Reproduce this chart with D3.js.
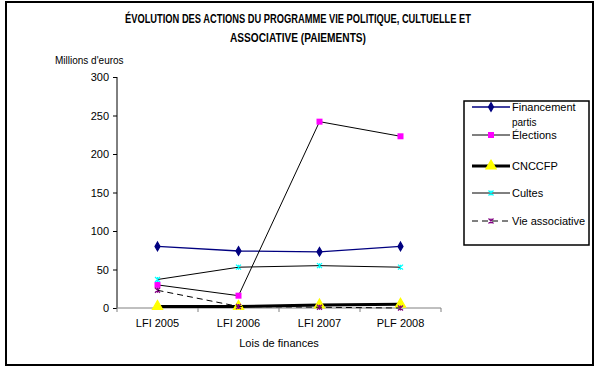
<!DOCTYPE html>
<html>
<head>
<meta charset="utf-8">
<script src="https://cdn.jsdelivr.net/npm/d3@7"></script>
<style>
  body { margin: 0; background: #fff; }
  svg text { font-family: Arial, "Liberation Sans", sans-serif; fill: #000; }
  .title { font-family: "Liberation Sans Narrow", "Arial Narrow", Arial, sans-serif; font-weight: bold; font-size: 12px; }
</style>
</head>
<body>
<div id="chart"></div>
<script>
var categories = ["LFI 2005", "LFI 2006", "LFI 2007", "PLF 2008"];
var yTicks = [0, 50, 100, 150, 200, 250, 300];

var financementPartis = [80, 74, 73, 80];
var elections = [30, 16, 242, 223];
var cnccfp = [2, 2, 4, 5];
var cultes = [37, 53, 55, 53];
var vieAssociative = [23, 2, 1, 0];

var seriesNames = ["Financement partis", "Élections", "CNCCFP", "Cultes", "Vie associative"];

var W = 597, H = 370;
var svg = d3.select("#chart").append("svg").attr("width", W).attr("height", H);

// outer frame
svg.append("rect")
  .attr("x", 6).attr("y", 2).attr("width", 587).attr("height", 363)
  .attr("fill", "none").attr("stroke", "#000").attr("stroke-width", 2);

// no narrow font installed, so squeeze the title to the reference width
svg.append("text").attr("class", "title").attr("x", 298).attr("y", 23)
  .attr("text-anchor", "middle").attr("textLength", 346).attr("lengthAdjust", "spacingAndGlyphs")
  .text("ÉVOLUTION DES ACTIONS DU PROGRAMME VIE POLITIQUE, CULTUELLE ET");
svg.append("text").attr("class", "title").attr("x", 298).attr("y", 42)
  .attr("text-anchor", "middle").attr("textLength", 136).attr("lengthAdjust", "spacingAndGlyphs")
  .text("ASSOCIATIVE (PAIEMENTS)");

svg.append("text").attr("x", 55).attr("y", 64).style("font-size", "10px").text("Millions d'euros");

var x = d3.scaleBand().domain(categories).range([117, 441]);
var y = d3.scaleLinear().domain([0, 300]).range([308, 77]);

// y axis
var yAxis = svg.append("g").attr("transform", "translate(117,0)")
  .call(d3.axisLeft(y).tickValues(yTicks).tickSize(4).tickPadding(4));
yAxis.select(".domain").attr("stroke", "#000").attr("d", "M0," + y(300) + "V" + y(0));
yAxis.selectAll(".tick line").attr("stroke", "#000");
yAxis.selectAll("text").style("font-size", "11px").attr("font-family", null);

// x axis (labels centered in bands, ticks at band edges)
var xAxis = svg.append("g").attr("transform", "translate(0," + y(0) + ")")
  .call(d3.axisBottom(x).tickSize(0).tickPadding(11));
xAxis.select(".domain").attr("stroke", "#808080").attr("d", "M117,0H441");
xAxis.selectAll("text").style("font-size", "11px").attr("font-family", null);
var edges = categories.map(function(c) { return x(c); }).concat([x.range()[1]]);
xAxis.selectAll(".edge").data(edges).enter().append("line")
  .attr("x1", function(d) { return d; }).attr("x2", function(d) { return d; })
  .attr("y1", 0).attr("y2", 4).attr("stroke", "#808080");

svg.append("text").attr("x", 279).attr("y", 347).attr("text-anchor", "middle")
  .style("font-size", "11px").text("Lois de finances");

function cx(i) { return x(categories[i]) + x.bandwidth() / 2; }

function asterisk(s) {
  return "M" + (-s) + "," + (-s) + "L" + s + "," + s +
    "M" + (-s) + "," + s + "L" + s + "," + (-s) +
    "M0," + (-s) + "L0," + s;
}

var series = [
  { name: seriesNames[0], values: financementPartis, stroke: "#000080", width: 1.3, dash: null,
    marker: d3.symbol().type(d3.symbolDiamond).size(22)(), mfill: "#000080", mstroke: "#000080" },
  { name: seriesNames[1], values: elections, stroke: "#000", width: 1, dash: null,
    marker: d3.symbol().type(d3.symbolSquare).size(36)(), mfill: "#ff00ff", mstroke: "none" },
  { name: seriesNames[2], values: cnccfp, stroke: "#000", width: 3, dash: null,
    marker: d3.symbol().type(d3.symbolTriangle).size(45)(), mfill: "#ffff00", mstroke: "#ffff00" },
  { name: seriesNames[3], values: cultes, stroke: "#000", width: 1, dash: null,
    marker: asterisk(2.5), mfill: "none", mstroke: "#00ffff" },
  { name: seriesNames[4], values: vieAssociative, stroke: "#000", width: 1, dash: "6,4",
    marker: asterisk(2.5), mfill: "none", mstroke: "#800080" }
];

var line = d3.line().x(function(d, i) { return cx(i); }).y(function(d) { return y(d); });

var plot = svg.append("g");
series.forEach(function(s) {
  plot.append("path").datum(s.values).attr("d", line)
    .attr("fill", "none").attr("stroke", s.stroke).attr("stroke-width", s.width)
    .attr("stroke-dasharray", s.dash);
  plot.selectAll(null).data(s.values).enter().append("path")
    .attr("d", s.marker)
    .attr("transform", function(d, i) { return "translate(" + cx(i) + "," + y(d) + ")"; })
    .attr("fill", s.mfill).attr("stroke", s.mstroke).attr("stroke-width", 1.2);
});

// legend
var legend = svg.append("g");
legend.append("rect").attr("x", 464).attr("y", 101).attr("width", 125).attr("height", 144)
  .attr("fill", "#fff").attr("stroke", "#000").attr("stroke-width", 1.5);
var legendY = [107, 135, 166, 193, 221];
series.forEach(function(s, i) {
  var g = legend.append("g").attr("transform", "translate(0," + legendY[i] + ")");
  g.append("line").attr("x1", 472).attr("x2", 510).attr("y1", 0).attr("y2", 0)
    .attr("stroke", s.stroke).attr("stroke-width", s.width).attr("stroke-dasharray", s.dash);
  g.append("path").attr("d", s.marker).attr("transform", "translate(491,0)")
    .attr("fill", s.mfill).attr("stroke", s.mstroke).attr("stroke-width", 1.2);
  var t = g.append("text").attr("x", 512).attr("y", 4).style("font-size", "11px");
  if (i === 0) {
    t.text("Financement");
    g.append("text").attr("x", 512).attr("y", 19).style("font-size", "10px").text("partis");
  } else {
    t.text(s.name);
  }
});
</script>
</body>
</html>
